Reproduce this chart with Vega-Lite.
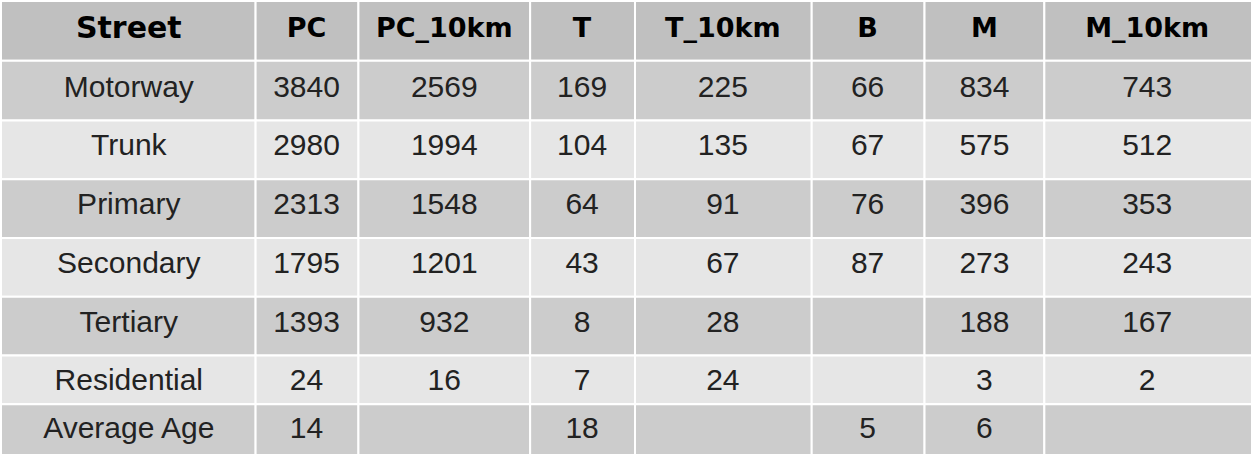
{
  "$schema": "https://vega.github.io/schema/vega-lite/v6.json",
  "autosize": {"type": "fit", "contains": "padding"},
  "width": 1253,
  "height": 456,
  "padding": 0,
  "background": "white",
  "config": {"view": {"stroke": null}},
  "datasets": {
    "table": [
      {"Street": "Street", "PC": "PC", "PC_10km": "PC_10km", "T": "T", "T_10km": "T_10km", "B": "B", "M": "M", "M_10km": "M_10km"},
      {"Street": "Motorway", "PC": "3840", "PC_10km": "2569", "T": "169", "T_10km": "225", "B": "66", "M": "834", "M_10km": "743"},
      {"Street": "Trunk", "PC": "2980", "PC_10km": "1994", "T": "104", "T_10km": "135", "B": "67", "M": "575", "M_10km": "512"},
      {"Street": "Primary", "PC": "2313", "PC_10km": "1548", "T": "64", "T_10km": "91", "B": "76", "M": "396", "M_10km": "353"},
      {"Street": "Secondary", "PC": "1795", "PC_10km": "1201", "T": "43", "T_10km": "67", "B": "87", "M": "273", "M_10km": "243"},
      {"Street": "Tertiary", "PC": "1393", "PC_10km": "932", "T": "8", "T_10km": "28", "B": "", "M": "188", "M_10km": "167"},
      {"Street": "Residential", "PC": "24", "PC_10km": "16", "T": "7", "T_10km": "24", "B": "", "M": "3", "M_10km": "2"},
      {"Street": "Average Age", "PC": "14", "PC_10km": "", "T": "18", "T_10km": "", "B": "5", "M": "6", "M_10km": ""}
    ],
    "cols": [
      {"key": "Street", "x0": 0, "x1": 255, "xm": 128},
      {"key": "PC", "x0": 255, "x1": 358, "xm": 306},
      {"key": "PC_10km", "x0": 358, "x1": 530, "xm": 444},
      {"key": "T", "x0": 530, "x1": 635, "xm": 582},
      {"key": "T_10km", "x0": 635, "x1": 812, "xm": 723},
      {"key": "B", "x0": 812, "x1": 925, "xm": 868},
      {"key": "M", "x0": 925, "x1": 1045, "xm": 985},
      {"key": "M_10km", "x0": 1045, "x1": 1253, "xm": 1148}
    ],
    "rows": [
      {"Street": "Street", "y0": 0, "y1": 60, "ym": 28, "band": "header"},
      {"Street": "Motorway", "y0": 60, "y1": 120, "ym": 87, "band": "dark"},
      {"Street": "Trunk", "y0": 120, "y1": 179, "ym": 146, "band": "light"},
      {"Street": "Primary", "y0": 179, "y1": 238, "ym": 205, "band": "dark"},
      {"Street": "Secondary", "y0": 238, "y1": 297, "ym": 264, "band": "light"},
      {"Street": "Tertiary", "y0": 297, "y1": 356, "ym": 323, "band": "dark"},
      {"Street": "Residential", "y0": 356, "y1": 405, "ym": 382, "band": "light"},
      {"Street": "Average Age", "y0": 405, "y1": 456, "ym": 430, "band": "dark"}
    ]
  },
  "data": {"name": "table"},
  "transform": [
    {"fold": ["Street", "PC", "PC_10km", "T", "T_10km", "B", "M", "M_10km"], "as": ["key", "value"]},
    {"lookup": "key", "from": {"data": {"name": "cols"}, "key": "key", "fields": ["x0", "x1", "xm"]}},
    {"lookup": "Street", "from": {"data": {"name": "rows"}, "key": "Street", "fields": ["y0", "y1", "ym", "band"]}}
  ],
  "layer": [
    {
      "mark": {"type": "rect", "stroke": "white", "strokeWidth": 2},
      "encoding": {
        "x": {"field": "x0", "type": "quantitative", "scale": {"domain": [0, 1253], "nice": false}, "axis": null},
        "x2": {"field": "x1"},
        "y": {"field": "y0", "type": "quantitative", "scale": {"domain": [456, 0], "nice": false}, "axis": null},
        "y2": {"field": "y1"},
        "color": {"field": "band", "type": "nominal", "scale": {"domain": ["header", "dark", "light"], "range": ["#c0c0c0", "#cccccc", "#e6e6e6"]}, "legend": null}
      }
    },
    {
      "transform": [{"filter": "datum.band == 'header'"}],
      "mark": {"type": "text", "font": "DejaVu Sans", "fontWeight": "bold", "color": "black", "baseline": "middle"},
      "encoding": {
        "x": {"field": "xm", "type": "quantitative"},
        "y": {"field": "ym", "type": "quantitative"},
        "text": {"field": "value"},
        "size": {"condition": {"test": "datum.key == 'Street'", "value": 30}, "value": 27}
      }
    },
    {
      "transform": [{"filter": "datum.band != 'header'"}],
      "mark": {"type": "text", "font": "Liberation Sans", "fontSize": 30, "color": "#222222", "baseline": "middle"},
      "encoding": {
        "x": {"field": "xm", "type": "quantitative"},
        "y": {"field": "ym", "type": "quantitative"},
        "text": {"field": "value"}
      }
    }
  ]
}
